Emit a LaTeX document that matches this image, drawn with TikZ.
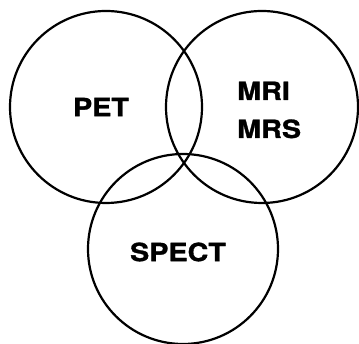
\documentclass[tikz,border=0pt]{standalone}
\usepackage{fontspec}
\newfontfamily\modfont{TeX Gyre Heros}[FakeStretch=1.15, BoldFeatures={FakeBold=1.2}]
\usetikzlibrary{positioning}

\begin{document}
\begin{tikzpicture}[
    x=1pt, y=1pt,
    ring/.style={draw, circle, line width=2.2pt, minimum size=#1, inner sep=0pt},
    ring/.default=192pt,
    modality/.style={font=\modfont\bfseries\fontsize{25}{38}\selectfont, inner sep=0pt, align=left}
]
\useasboundingbox (0,0) rectangle (359,344);

% --- Circles ---
\node[ring]        (petring)   at (106,237) {};
\node[ring]        (mriring)   at (262,237) {};
\node[ring=190pt]  (spectring) at (183,95)  {};

% --- Labels ---
\node[modality]             (pet)   at (101,237) {PET};
\node[modality, anchor=west] (mri)  at (237,234) {MRI\\MRS};
\node[modality]             (spect) at (178,92)  {SPECT};

\end{tikzpicture}
\end{document}
